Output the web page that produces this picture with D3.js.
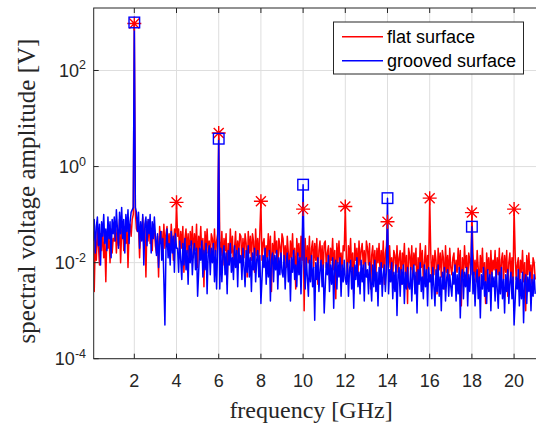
<!DOCTYPE html>
<html>
<head>
<meta charset="utf-8">
<script src="https://cdn.jsdelivr.net/npm/d3@7"></script>
<style>
    body { margin: 0; background: #fff; }
    svg { display: block; }
</style>
</head>
<body>
<svg id="plot" width="536" height="426"></svg>
<script>
// Frequency step of the spectrum samples [GHz], first sample at 0.05 GHz
const freqStep = 0.05;

// Noise floor of the flat surface, log10 of amplitude [V], one row per GHz
const flatLog = [
    -1.35,-2.6,-1.5,-1.95,-1.3,-1.65,-2.05,-1.4,-1.75,-1.25,-1.9,-1.55,-2.4,-1.35,-1.7,-1.45,-2.0,-1.3,-1.8,-1.5,
    -1.55,-1.15,-1.8,-1.3,-1.65,-1.1,-2.0,-1.35,-1.2,-1.75,-1.25,-1.6,-1.15,-2.1,-1.4,-1.2,-1.45,-1.1,-1.0,-1.0,
    -0.95,-1.3,-1.35,-1.2,-1.9,-1.25,-1.5,-1.05,-1.7,-1.3,-2.3,-1.15,-1.55,-1.1,-1.6,-1.35,-1.75,-1.2,-1.3,-1.65,
    -1.8,-1.45,-2.3,-1.25,-1.6,-1.35,-1.9,-1.2,-1.7,-1.4,-1.25,-1.7,-1.4,-1.85,-1.2,-1.55,-1.95,-1.3,-1.65,-1.15,
    -1.45,-1.3,-1.85,-1.35,-1.7,-1.25,-2.2,-1.5,-1.3,-1.8,-1.4,-1.95,-1.35,-1.65,-1.25,-1.9,-1.4,-1.75,-1.2,-2.1,
    -1.45,-1.7,-1.25,-1.9,-1.5,-2.5,-1.35,-1.75,-1.3,-1.8,-1.55,-1.95,-1.4,-1.5,-1.85,-1.3,-1.85,-1.55,-1.4,-2.1,
    -1.55,-1.85,-1.35,-2.05,-1.5,-1.75,-1.4,-2.45,-1.6,-1.95,-1.3,-1.8,-1.45,-2.1,-1.7,-1.35,-2.0,-1.55,-1.85,-1.4,
    -1.45,-2.05,-1.5,-1.9,-1.4,-1.6,-2.3,-1.35,-1.8,-1.45,-1.95,-1.4,-1.55,-2.2,-1.3,-1.85,-1.5,-2.0,-1.35,-1.75,
    -1.95,-1.6,-1.5,-2.05,-1.65,-1.9,-1.4,-1.85,-1.45,-2.6,-1.6,-2.0,-1.35,-1.8,-1.55,-2.2,-1.5,-1.65,-1.95,-1.4,
    -1.5,-1.95,-1.65,-2.1,-1.45,-1.8,-2.2,-1.55,-1.9,-1.4,-2.05,-1.7,-2.55,-1.5,-1.85,-1.6,-2.15,-1.45,-1.95,-1.65,
    -3.0,-1.5,-2.15,-1.65,-2.0,-1.45,-2.35,-1.7,-1.55,-2.1,-1.6,-1.95,-1.5,-2.45,-1.75,-1.55,-2.05,-1.65,-2.2,-1.6,
    -1.55,-2.1,-1.8,-1.65,-2.35,-1.7,-1.95,-1.5,-2.15,-1.75,-2.75,-1.6,-2.0,-1.55,-2.05,-1.8,-2.2,-1.65,-1.75,-2.1,
    -1.9,-2.3,-1.65,-2.0,-1.5,-2.15,-1.8,-2.65,-1.6,-1.95,-1.7,-2.25,-1.55,-2.05,-1.75,-1.6,-2.05,-1.75,-2.2,-1.55,
    -1.7,-2.05,-1.6,-2.55,-1.85,-1.65,-2.15,-1.75,-2.3,-1.7,-2.0,-1.6,-2.25,-1.75,-2.1,-1.55,-2.45,-1.8,-1.65,-2.2,
    -2.1,-1.65,-2.15,-1.9,-2.3,-1.75,-1.85,-2.2,-1.65,-2.2,-1.9,-1.75,-2.45,-1.8,-2.05,-1.6,-2.25,-1.85,-2.85,-1.7,
    -1.85,-2.15,-1.65,-2.35,-1.8,-2.05,-1.7,-2.75,-1.9,-2.25,-1.6,-2.1,-1.75,-2.4,-2.0,-1.65,-2.3,-1.85,-2.15,-1.7,
    -1.8,-2.4,-1.85,-2.25,-1.75,-1.95,-2.65,-1.7,-2.15,-1.8,-2.3,-1.75,-1.9,-2.55,-1.65,-2.2,-1.85,-2.35,-1.7,-2.1,
    -2.25,-1.9,-1.8,-2.35,-1.95,-2.2,-1.7,-2.15,-1.75,-2.9,-1.9,-2.3,-1.65,-2.1,-1.85,-2.5,-1.8,-1.95,-2.25,-1.7,
    -1.8,-2.25,-1.95,-2.4,-1.75,-2.1,-2.5,-1.85,-2.2,-1.7,-2.35,-2.0,-2.85,-1.8,-2.15,-1.9,-2.45,-1.75,-2.25,-1.95,
    -2.15,-1.75,-2.4,-1.9,-2.25,-1.7,-2.6,-1.95,-1.8,-2.35,-1.85,-2.2,-1.75,-2.7,-2.0,-1.8,-2.3,-1.9,-2.45,-1.85,
    -1.8,-2.35,-2.05,-1.9,-2.6,-1.95,-2.2,-1.75,-2.4,-2.0,-3.0,-1.85,-2.25,-1.8,-2.3,-2.05,-2.45,-1.9,-2.0,-2.35
];

// Noise floor of the grooved surface, log10 of amplitude [V], one row per GHz
const groovedLog = [
    -1.55,-1.1,-1.8,-1.25,-1.05,-1.65,-1.2,-2.05,-1.15,-1.45,-1.0,-1.6,-1.3,-1.75,-1.05,-1.5,-1.15,-1.9,-1.1,-1.4,
    -1.05,-1.55,-0.9,-1.3,-1.7,-0.95,-1.4,-0.85,-1.5,-1.1,-1.8,-1.0,-1.35,-0.9,-1.6,-1.15,-0.95,-0.9,-0.85,-0.8,
    -0.85,-0.95,-1.35,-0.95,-1.7,-1.15,-1.55,-1.0,-2.05,-1.2,-1.05,-1.65,-1.1,-1.4,-1.0,-1.8,-1.15,-1.5,-1.05,-1.45,
    -1.85,-1.4,-2.1,-1.55,-1.35,-1.95,-1.5,-2.35,-3.3,-1.75,-1.3,-1.9,-1.6,-2.05,-1.35,-1.8,-1.45,-2.2,-1.4,-1.7,
    -1.7,-2.2,-1.55,-1.95,-2.35,-1.6,-2.05,-1.5,-2.15,-1.75,-2.45,-1.65,-2.0,-1.55,-2.25,-1.8,-1.6,-2.15,-1.7,-2.7,
    -2.2,-1.7,-1.95,-1.55,-2.3,-1.75,-2.15,-1.6,-2.65,-1.8,-1.65,-2.25,-1.7,-2.0,-1.6,-2.4,-1.75,-2.55,-1.65,-2.0,
    -2.55,-1.7,-2.4,-1.85,-1.65,-2.25,-1.8,-2.65,-1.75,-2.05,-1.6,-2.2,-1.9,-2.35,-1.65,-2.1,-1.75,-2.5,-1.7,-2.0,
    -1.85,-2.35,-1.7,-2.1,-2.5,-1.75,-2.2,-1.65,-2.3,-1.9,-2.6,-1.8,-2.15,-1.7,-2.4,-1.95,-1.75,-2.3,-1.85,-2.85,
    -2.35,-1.85,-2.1,-1.7,-2.45,-1.9,-2.3,-1.75,-2.8,-1.95,-1.8,-2.4,-1.85,-2.15,-1.75,-2.55,-1.9,-2.25,-1.8,-2.2,
    -2.3,-1.85,-2.55,-2.0,-1.8,-2.4,-1.95,-2.8,-1.9,-2.2,-1.75,-2.35,-2.05,-2.5,-1.8,-2.25,-1.9,-2.65,-1.85,-2.15,
    -2.05,-2.55,-1.9,-2.3,-2.7,-1.95,-2.4,-1.85,-2.5,-2.1,-3.2,-2.0,-2.35,-1.9,-2.6,-2.15,-1.95,-2.5,-2.05,-3.05,
    -2.5,-2.0,-2.25,-1.85,-2.6,-2.05,-2.45,-1.9,-2.95,-2.1,-1.95,-2.55,-2.0,-2.3,-1.9,-2.7,-2.05,-2.4,-1.95,-2.35,
    -2.45,-2.0,-2.7,-2.15,-1.95,-2.55,-2.1,-2.95,-2.05,-2.35,-1.9,-2.5,-2.2,-2.65,-1.95,-2.4,-2.05,-2.8,-2.0,-2.3,
    -2.15,-2.65,-2.0,-2.4,-2.8,-2.05,-2.5,-1.95,-2.6,-2.2,-2.9,-2.1,-2.45,-2.0,-2.7,-2.25,-2.05,-2.6,-2.15,-2.4,
    -2.65,-2.15,-2.4,-2.0,-2.75,-2.2,-2.6,-2.05,-3.1,-2.25,-2.1,-2.7,-2.15,-2.45,-2.05,-2.85,-2.2,-2.55,-2.1,-2.5,
    -2.55,-2.1,-2.8,-2.25,-2.05,-2.65,-2.2,-3.05,-2.15,-2.45,-2.0,-2.6,-2.3,-2.75,-2.05,-2.5,-2.15,-2.9,-2.1,-2.4,
    -2.25,-2.75,-2.1,-2.5,-2.9,-2.15,-2.6,-2.05,-2.7,-2.3,-3.0,-2.2,-2.55,-2.1,-2.8,-2.35,-2.15,-2.7,-2.25,-2.5,
    -2.7,-2.2,-2.45,-2.05,-2.8,-2.25,-2.65,-2.1,-3.15,-2.3,-2.15,-2.75,-2.2,-2.5,-2.1,-2.9,-2.25,-2.6,-2.15,-2.55,
    -2.65,-2.2,-2.9,-2.35,-2.15,-2.75,-2.3,-3.15,-2.25,-2.55,-2.1,-2.7,-2.4,-2.85,-2.15,-2.6,-2.25,-3.0,-2.2,-2.5,
    -2.3,-2.8,-2.15,-2.55,-2.95,-2.2,-2.65,-2.1,-2.75,-2.35,-3.05,-2.25,-2.6,-2.15,-2.85,-2.4,-2.2,-2.75,-2.3,-3.3,
    -2.8,-2.3,-2.55,-2.15,-2.9,-2.35,-2.75,-2.2,-3.25,-2.4,-2.25,-2.85,-2.3,-2.6,-2.2,-3.0,-2.35,-2.7,-2.25,-2.65
];

// Harmonic peaks (marked) [GHz] and [V]
const flatHarmFreq = [2, 4, 6, 8, 10, 12, 14, 16, 18, 20];
const flatHarmAmp = [950, 0.18, 5.0, 0.19, 0.13, 0.147, 0.071, 0.22, 0.11, 0.13];
const groovedHarmFreq = [2, 6, 10, 14, 18];
const groovedHarmAmp = [1000, 3.8, 0.42, 0.22, 0.056];

// Tick values
const xTicks = [2, 4, 6, 8, 10, 12, 14, 16, 18, 20];
const yTickExp = [-4, -2, 0, 2];

const seriesNames = ["flat surface", "grooved surface"];
const seriesColors = ["#ff0000", "#0000ff"];

// Plot box in pixels
const margin = { top: 8, left: 93.7, bottom: 358.7, right: 537.3 };

let scaleX = d3.scaleLinear().domain([0.075, 21.1]).range([margin.left, margin.right]);
let scaleY = d3.scaleLog().domain([1e-4, 2000]).range([margin.bottom, margin.top]).clamp(true);

// Build a spectrum: noise samples with the harmonic peaks put in
function buildSeries(noiseLog, harmFreq, harmAmp) {
    return noiseLog.map(function (v, i) {
        let f = (i + 1) * freqStep;
        let k = harmFreq.findIndex((h) => Math.round(h / freqStep) === i + 1);
        return { f: f, a: k >= 0 ? harmAmp[k] : Math.pow(10, v) };
    });
}

const flatSeries = buildSeries(flatLog, flatHarmFreq, flatHarmAmp);
const groovedSeries = buildSeries(groovedLog, groovedHarmFreq, groovedHarmAmp);

function renderPlot() {
    const svg = d3.select("#plot");
    const axisColor = "#262626";
    const sans = "'Liberation Sans', Arial, sans-serif";
    const serif = "'Liberation Serif', 'Times New Roman', serif";

    // Grid lines
    const grid = svg.append("g").attr("stroke", "#dedede").attr("stroke-width", 1);
    grid.selectAll("line.gx")
        .data(xTicks)
        .enter()
        .append("line")
        .attr("x1", (d) => scaleX(d))
        .attr("x2", (d) => scaleX(d))
        .attr("y1", margin.top)
        .attr("y2", margin.bottom);
    grid.selectAll("line.gy")
        .data(yTickExp)
        .enter()
        .append("line")
        .attr("x1", margin.left)
        .attr("x2", margin.right)
        .attr("y1", (d) => scaleY(Math.pow(10, d)))
        .attr("y2", (d) => scaleY(Math.pow(10, d)));

    // Clip to the axes box
    svg.append("defs")
        .append("clipPath")
        .attr("id", "box")
        .append("rect")
        .attr("x", margin.left)
        .attr("y", margin.top)
        .attr("width", margin.right - margin.left)
        .attr("height", margin.bottom - margin.top);

    const line = d3
        .line()
        .x((d) => scaleX(d.f))
        .y((d) => scaleY(d.a));

    const plotArea = svg.append("g").attr("clip-path", "url(#box)");

    // Spectra: flat first, grooved on top
    [flatSeries, groovedSeries].forEach(function (s, i) {
        plotArea.append("path")
            .datum(s)
            .attr("d", line)
            .attr("fill", "none")
            .attr("stroke", seriesColors[i])
            .attr("stroke-width", 1.5)
            .attr("stroke-linejoin", "round");
    });

    // Red asterisk markers on flat harmonics
    const star = "M-7,0H7M0,-7V7M-5,-5L5,5M-5,5L5,-5";
    plotArea.selectAll("path.star")
        .data(flatHarmFreq)
        .enter()
        .append("path")
        .attr("class", "star")
        .attr("transform", (d, i) => "translate(" + scaleX(d) + "," + scaleY(flatHarmAmp[i]) + ")")
        .attr("d", star)
        .attr("stroke", seriesColors[0])
        .attr("stroke-width", 1.4)
        .attr("fill", "none");

    // Blue square markers on grooved harmonics
    plotArea.selectAll("rect.sq")
        .data(groovedHarmFreq)
        .enter()
        .append("rect")
        .attr("class", "sq")
        .attr("x", (d) => scaleX(d) - 5.3)
        .attr("y", (d, i) => scaleY(groovedHarmAmp[i]) - 5.3)
        .attr("width", 10.6)
        .attr("height", 10.6)
        .attr("fill", "none")
        .attr("stroke", seriesColors[1])
        .attr("stroke-width", 1.4);

    // Axes box
    svg.append("rect")
        .attr("x", margin.left)
        .attr("y", margin.top)
        .attr("width", margin.right - margin.left)
        .attr("height", margin.bottom - margin.top)
        .attr("fill", "none")
        .attr("stroke", axisColor)
        .attr("stroke-width", 1);

    // Ticks pointing inward, bottom and top
    const ticks = svg.append("g").attr("stroke", axisColor).attr("stroke-width", 1);
    xTicks.forEach(function (t) {
        ticks.append("line")
            .attr("x1", scaleX(t)).attr("x2", scaleX(t))
            .attr("y1", margin.bottom).attr("y2", margin.bottom - 5);
        ticks.append("line")
            .attr("x1", scaleX(t)).attr("x2", scaleX(t))
            .attr("y1", margin.top).attr("y2", margin.top + 5);
    });
    yTickExp.forEach(function (t) {
        ticks.append("line")
            .attr("x1", margin.left).attr("x2", margin.left + 5)
            .attr("y1", scaleY(Math.pow(10, t))).attr("y2", scaleY(Math.pow(10, t)));
    });

    // X tick labels
    svg.append("g")
        .selectAll("text")
        .data(xTicks)
        .enter()
        .append("text")
        .attr("x", (d) => scaleX(d))
        .attr("y", 386.5)
        .attr("text-anchor", "middle")
        .attr("font-family", sans)
        .attr("font-size", 18)
        .attr("fill", axisColor)
        .text((d) => d);

    // Y tick labels as 10^n
    const yLabels = svg.append("g")
        .selectAll("text")
        .data(yTickExp)
        .enter()
        .append("text")
        .attr("x", 86)
        .attr("y", (d) => scaleY(Math.pow(10, d)) + 6.5)
        .attr("text-anchor", "end")
        .attr("font-family", sans)
        .attr("font-size", 18)
        .attr("fill", axisColor);
    yLabels.append("tspan").text("10");
    yLabels.append("tspan")
        .attr("dy", -7.5)
        .attr("font-size", 12.5)
        .text((d) => d);

    // Axis titles
    svg.append("text")
        .attr("x", 311)
        .attr("y", 418)
        .attr("text-anchor", "middle")
        .attr("font-family", serif)
        .attr("font-size", 24)
        .attr("fill", axisColor)
        .text("frequency [GHz]");

    svg.append("text")
        .attr("transform", "translate(35,191) rotate(-90)")
        .attr("text-anchor", "middle")
        .attr("font-family", serif)
        .attr("font-size", 25)
        .attr("fill", axisColor)
        .text("spectral voltage amplitude [V]");

    // Legend
    const legend = svg.append("g");
    legend.append("rect")
        .attr("x", 333.5)
        .attr("y", 22)
        .attr("width", 190)
        .attr("height", 52)
        .attr("fill", "#fff")
        .attr("stroke", axisColor)
        .attr("stroke-width", 1);
    seriesNames.forEach(function (name, i) {
        legend.append("line")
            .attr("x1", 342).attr("x2", 383)
            .attr("y1", 36.7 + i * 24).attr("y2", 36.7 + i * 24)
            .attr("stroke", seriesColors[i])
            .attr("stroke-width", 1.4);
        legend.append("text")
            .attr("x", 387)
            .attr("y", 43 + i * 24)
            .attr("font-family", sans)
            .attr("font-size", 18)
            .attr("fill", "#000")
            .text(name);
    });
}

// Initial rendering of the plot
renderPlot();
</script>
</body>
</html>
